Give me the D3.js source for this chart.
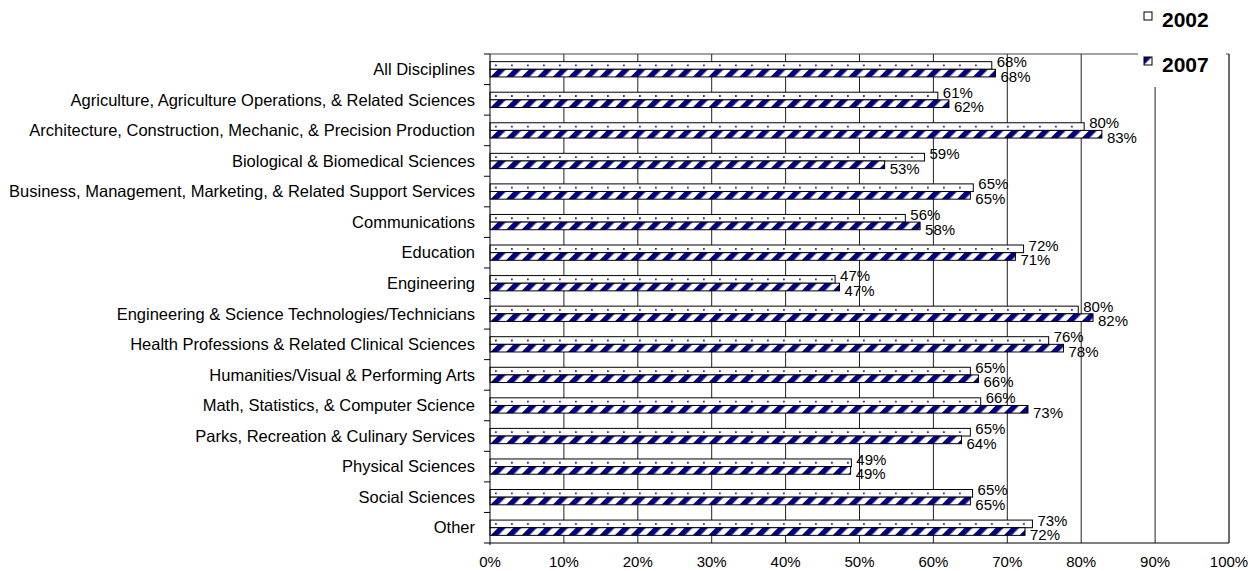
<!DOCTYPE html>
<html>
<head>
<meta charset="utf-8">
<script src="https://cdn.jsdelivr.net/npm/d3@7"></script>
<style>
  html, body { margin: 0; padding: 0; background: #fff; }
  svg { display: block; font-family: Arial, "Liberation Sans", sans-serif; }
</style>
</head>
<body>
<svg id="chart" width="1248" height="571"></svg>
<script>
const categories = [
  "All Disciplines",
  "Agriculture, Agriculture Operations, & Related Sciences",
  "Architecture, Construction, Mechanic, & Precision Production",
  "Biological & Biomedical Sciences",
  "Business, Management, Marketing, & Related Support Services",
  "Communications",
  "Education",
  "Engineering",
  "Engineering & Science Technologies/Technicians",
  "Health Professions & Related Clinical Sciences",
  "Humanities/Visual & Performing Arts",
  "Math, Statistics, & Computer Science",
  "Parks, Recreation & Culinary Services",
  "Physical Sciences",
  "Social Sciences",
  "Other"
];
const seriesNames = ["2002", "2007"];
const values2002 = [67.9, 60.6, 80.4, 58.8, 65.4, 56.2, 72.2, 46.7, 79.6, 75.6, 65.0, 66.4, 65.0, 48.9, 65.3, 73.4];
const values2007 = [68.4, 62.1, 82.8, 53.4, 65.0, 58.2, 71.1, 47.3, 81.6, 77.6, 66.1, 72.8, 63.8, 48.8, 65.0, 72.4];
const xTicks = [0, 10, 20, 30, 40, 50, 60, 70, 80, 90, 100];

const svg = d3.select("#chart");
const plot = { left: 490, right: 1229, top: 54, bottom: 543 };
const navy = "#000080";

const x = d3.scaleLinear().domain([0, 100]).range([plot.left, plot.right]);
const y0 = d3.scaleBand().domain(categories).range([plot.top, plot.bottom]).padding(0);
const y1 = d3.scaleBand().domain(seriesNames)
  .range([y0.bandwidth() * 0.25, y0.bandwidth() * 0.75]).padding(0);

// patterns
const defs = svg.append("defs");
const stripe = defs.append("pattern")
  .attr("id", "stripe")
  .attr("patternUnits", "userSpaceOnUse")
  .attr("width", 11).attr("height", 11)
  .attr("patternTransform", "rotate(45)");
stripe.append("rect").attr("width", 11).attr("height", 11).attr("fill", "#fff");
stripe.append("rect").attr("width", 5.5).attr("height", 11).attr("fill", navy);

// gridlines
svg.append("g").selectAll("line").data(xTicks.slice(1)).join("line")
  .attr("x1", d => x(d)).attr("x2", d => x(d))
  .attr("y1", plot.top).attr("y2", plot.bottom)
  .attr("stroke", "#222").attr("stroke-width", 1);

// plot border (top)
svg.append("line")
  .attr("x1", plot.left).attr("x2", plot.right)
  .attr("y1", plot.top).attr("y2", plot.top)
  .attr("stroke", "#444");

// bars
const rows = categories.map((c, i) => ({ c, v: [values2002[i], values2007[i]] }));
const groups = svg.append("g").selectAll("g").data(rows).join("g")
  .attr("transform", d => `translate(0,${y0(d.c)})`);

// 2002 bars
groups.append("rect")
  .attr("x", x(0))
  .attr("y", y1("2002"))
  .attr("width", d => x(d.v[0]) - x(0))
  .attr("height", y1.bandwidth())
  .attr("fill", "#fff").attr("stroke", "#000").attr("stroke-width", 1);
groups.append("line")
  .attr("x1", x(0) + 5).attr("x2", d => x(d.v[0]) - 1)
  .attr("y1", y1("2002") + y1.bandwidth() / 2)
  .attr("y2", y1("2002") + y1.bandwidth() / 2)
  .attr("stroke", "#2a2ad0").attr("stroke-width", 1.8)
  .attr("stroke-dasharray", "1.8 14.2");

// 2007 bars
groups.append("rect")
  .attr("x", x(0))
  .attr("y", y1("2007"))
  .attr("width", d => x(d.v[1]) - x(0))
  .attr("height", y1.bandwidth())
  .attr("fill", "url(#stripe)").attr("stroke", "#000").attr("stroke-width", 1);

// labels
const fmt = v => Math.round(v) + "%";
groups.append("text")
  .attr("x", d => x(d.v[0]) + 5)
  .attr("y", y1("2002") + y1.bandwidth() / 2 - 3.5)
  .attr("dy", "0.35em")
  .attr("font-size", 15).attr("fill", "#000")
  .text(d => fmt(d.v[0]));
groups.append("text")
  .attr("x", d => x(d.v[1]) + 5)
  .attr("y", y1("2007") + y1.bandwidth() / 2 + 3.5)
  .attr("dy", "0.35em")
  .attr("font-size", 15).attr("fill", "#000")
  .text(d => fmt(d.v[1]));

// y axis
const yAxis = svg.append("g").attr("transform", `translate(${plot.left},0)`);
yAxis.append("line").attr("x1", 0).attr("x2", 0)
  .attr("y1", plot.top).attr("y2", plot.bottom + 2).attr("stroke", "#000");
const bounds = categories.map(c => y0(c)).concat([plot.bottom]);
yAxis.selectAll("line.tick").data(bounds).join("line").attr("class", "tick")
  .attr("x1", -6).attr("x2", 0).attr("y1", d => d).attr("y2", d => d)
  .attr("stroke", "#000");
yAxis.selectAll("text").data(categories).join("text")
  .attr("x", -15)
  .attr("y", d => y0(d) + y0.bandwidth() / 2)
  .attr("dy", "0.35em")
  .attr("text-anchor", "end")
  .attr("font-size", 16.5).attr("fill", "#000")
  .text(d => d);

// x axis
const xAxis = svg.append("g").attr("transform", `translate(0,${plot.bottom})`);
xAxis.append("line").attr("x1", plot.left).attr("x2", plot.right)
  .attr("y1", 0).attr("y2", 0).attr("stroke", "#000");
xAxis.selectAll("text").data(xTicks).join("text")
  .attr("x", d => x(d))
  .attr("y", 24)
  .attr("text-anchor", "middle")
  .attr("font-size", 15).attr("fill", "#000")
  .text(d => d + "%");

// right plot border
svg.append("line")
  .attr("x1", plot.right).attr("x2", plot.right)
  .attr("y1", plot.top).attr("y2", plot.bottom)
  .attr("stroke", "#444");

// legend
const legend = svg.append("g");
legend.append("rect").attr("x", 1138).attr("y", 0).attr("width", 88).attr("height", 87)
  .attr("fill", "#fff");
const legItems = legend.selectAll("g").data(seriesNames).join("g")
  .attr("transform", (d, i) => `translate(1144,${12 + i * 45})`);
legItems.append("rect").attr("width", 8).attr("height", 8)
  .attr("fill", (d, i) => i === 0 ? "#fff" : "url(#stripe)")
  .attr("stroke", "#000").attr("stroke-width", 1);
legItems.append("text")
  .attr("x", 18).attr("y", 15)
  .attr("font-size", 21).attr("font-weight", "bold").attr("fill", "#000")
  .text(d => d);
</script>
</body>
</html>
